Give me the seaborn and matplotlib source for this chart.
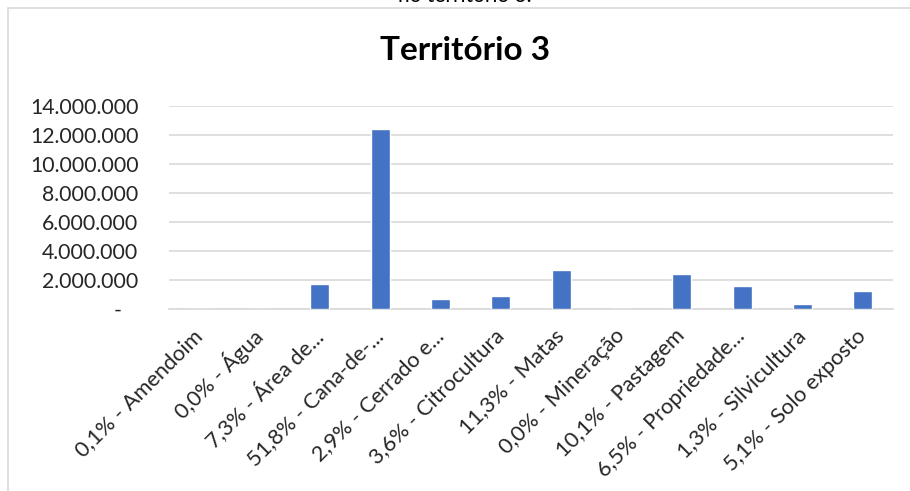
import matplotlib
matplotlib.use("Agg")
import matplotlib.pyplot as plt
from matplotlib.patches import Rectangle
import seaborn as sns
import pandas as pd

# Land use in Território 3 (area per class, share of total in the label)
categorias = [
    "0,1% - Amendoim",
    "0,0% - Água",
    "7,3% - Área de...",
    "51,8% - Cana-de-...",
    "2,9% - Cerrado e...",
    "3,6% - Citrocultura",
    "11,3% - Matas",
    "0,0% - Mineração",
    "10,1% - Pastagem",
    "6,5% - Propriedade...",
    "1,3% - Silvicultura",
    "5,1% - Solo exposto",
]
valores = [
    24000, 4000, 1745000, 12395000, 694000, 862000,
    2705000, 3000, 2418000, 1556000, 311000, 1221000,
]
y_ticks = [0, 2000000, 4000000, 6000000, 8000000, 10000000, 12000000, 14000000]
y_labels = ["-   ", "2.000.000", "4.000.000", "6.000.000", "8.000.000",
            "10.000.000", "12.000.000", "14.000.000"]

titulo = "Território 3"
legenda_superior = "no território 3."

df = pd.DataFrame({"categoria": categorias, "valor": valores})

sns.set_style("white")
plt.rcParams["font.family"] = ["Lato", "DejaVu Sans"]

W, H = 910, 491
fig = plt.figure(figsize=(W / 100, H / 100), dpi=100)
fig.patch.set_facecolor("white")

# chart frame (continues past the right and bottom edges)
fig.patches.append(Rectangle((8 / W, -0.2), 1.2, (H - 7.5) / H + 0.2,
                             transform=fig.transFigure, fill=False,
                             edgecolor="#d9d9d9", linewidth=1.2))

# caption text cut off at the top edge
fig.text(465 / W, (H + 4) / H, legenda_superior, ha="center", va="center",
         fontsize=15, color="black")

ax = fig.add_axes([169 / W, (H - 309) / H, (893 - 169) / W, (309 - 105.7) / H])

sns.barplot(data=df, x="categoria", y="valor", color="#4472C4",
            width=0.315, saturation=1, ax=ax, zorder=3)

ax.set_ylim(0, 14000000)
ax.set_xlim(-0.5, len(categorias) - 0.5)
ax.set_yticks(y_ticks)
ax.set_yticklabels(y_labels, fontsize=15.3)
ax.yaxis.grid(True, color="#d9d9d9", linewidth=1.2, zorder=0)
ax.set_axisbelow(True)
for s in ["top", "right", "left"]:
    ax.spines[s].set_visible(False)
ax.spines["bottom"].set_color("#d9d9d9")
ax.spines["bottom"].set_linewidth(1.2)
ax.tick_params(axis="y", length=0, pad=22)
ax.tick_params(axis="x", length=0, pad=17)
ax.set_xticks(range(len(categorias)))
ax.set_xticklabels(categorias, rotation=45, ha="right", va="center",
                   rotation_mode="anchor", fontsize=15.7)
ax.set_xlabel("")
ax.set_ylabel("")

fig.text(465 / W, (H - 50) / H, titulo, ha="center", va="center",
         fontsize=24, fontweight="bold", color="black")

fig.savefig("out.png", dpi=100, facecolor="white")
